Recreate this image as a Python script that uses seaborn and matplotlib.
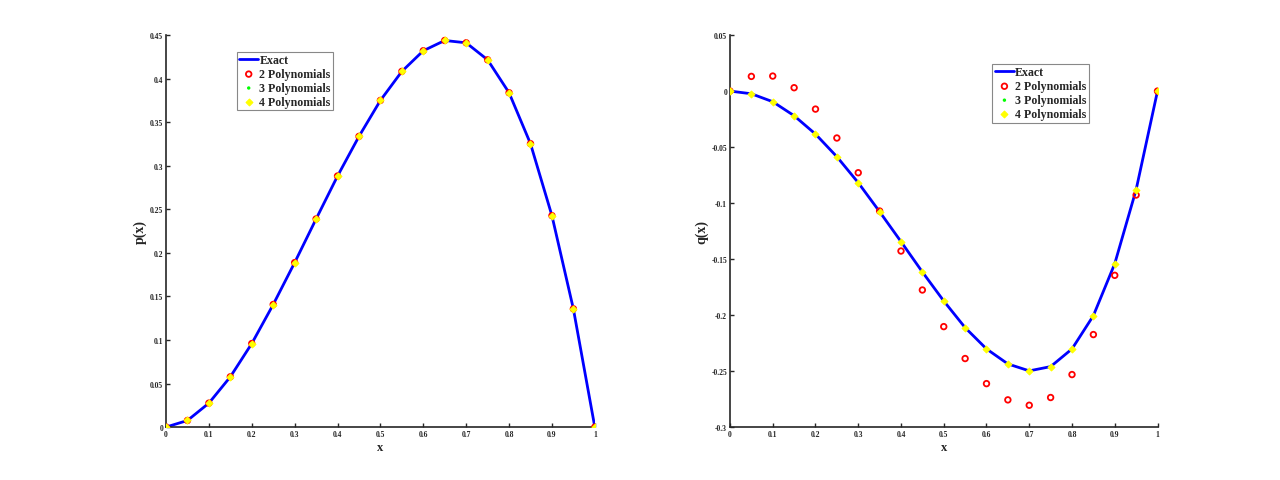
import numpy as np
import pandas as pd
import matplotlib
matplotlib.use('Agg')
import matplotlib.pyplot as plt
import seaborn as sns

x_vals = [0.0, 0.05, 0.1, 0.15, 0.2, 0.25, 0.3, 0.35, 0.4, 0.45, 0.5,
          0.55, 0.6, 0.65, 0.7, 0.75, 0.8, 0.85, 0.9, 0.95, 1.0]

p_exact = [0.0, 0.0076, 0.0275, 0.0577, 0.0959, 0.1407, 0.1888, 0.2389,
           0.2882, 0.3337, 0.375, 0.4083, 0.432, 0.4438, 0.4411, 0.4216,
           0.3838, 0.3253, 0.2427, 0.1357, 0.0]
p_poly2 = [0.0, 0.0076, 0.0275, 0.0577, 0.0959, 0.1407, 0.1888, 0.2389,
           0.2882, 0.3337, 0.375, 0.4083, 0.432, 0.4438, 0.4411, 0.4216,
           0.3838, 0.3253, 0.2427, 0.1357, 0.0]
p_poly3 = list(p_poly2)
p_poly4 = list(p_poly2)

q_exact = [0.0, -0.0024, -0.0095, -0.022, -0.0384, -0.0586, -0.0818, -0.1077,
           -0.1344, -0.1615, -0.1874, -0.2112, -0.2302, -0.2436, -0.2498,
           -0.246, -0.2302, -0.2005, -0.1541, -0.088, 0.0]
q_poly2 = [0.0, 0.0131, 0.0134, 0.003, -0.0161, -0.0419, -0.0729, -0.1071,
           -0.1428, -0.1776, -0.2103, -0.2388, -0.2612, -0.2757, -0.2805,
           -0.2736, -0.2531, -0.2174, -0.1645, -0.0928, 0.0]
q_poly3 = list(q_exact)
q_poly4 = list(q_exact)

x_ticks = [0, 0.1, 0.2, 0.3, 0.4, 0.5, 0.6, 0.7, 0.8, 0.9, 1]
x_ticklabels = ['0', '0.1', '0.2', '0.3', '0.4', '0.5', '0.6', '0.7', '0.8', '0.9', '1']
p_ticks = [0, 0.05, 0.1, 0.15, 0.2, 0.25, 0.3, 0.35, 0.4, 0.45]
p_ticklabels = ['0', '0.05', '0.1', '0.15', '0.2', '0.25', '0.3', '0.35', '0.4', '0.45']
q_ticks = [-0.3, -0.25, -0.2, -0.15, -0.1, -0.05, 0, 0.05]
q_ticklabels = ['-0.3', '-0.25', '-0.2', '-0.15', '-0.1', '-0.05', '0', '0.05']

sns.set_style('ticks')
plt.rcParams['font.family'] = ['Liberation Serif', 'DejaVu Serif']
plt.rcParams['xtick.direction'] = 'in'
plt.rcParams['ytick.direction'] = 'in'


def draw_panel(ax, exact, poly2, poly3, poly4, ylim, yticks, yticklabels, ylabel, legend_xy):
    df = pd.DataFrame({'x': x_vals, 'exact': exact, 'p2': poly2, 'p3': poly3, 'p4': poly4})
    sns.lineplot(data=df, x='x', y='exact', ax=ax, color='#0000ff', lw=2,
                 label='Exact', zorder=2)
    sns.scatterplot(data=df, x='x', y='p2', ax=ax, marker='o', s=16,
                    facecolor='none', edgecolor='#ff0000', linewidth=1.3,
                    label='2 Polynomials', zorder=3)
    sns.scatterplot(data=df, x='x', y='p3', ax=ax, marker='o', s=6,
                    color='#00ff00', edgecolor='none',
                    label='3 Polynomials', zorder=4)
    sns.scatterplot(data=df, x='x', y='p4', ax=ax, marker='D', s=12,
                    color='#ffff00', edgecolor='#ffff00', linewidth=0.8,
                    label='4 Polynomials', zorder=5)
    ax.set_xlim(0, 1)
    ax.set_ylim(*ylim)
    ax.set_xticks(x_ticks)
    ax.set_xticklabels(x_ticklabels)
    ax.set_yticks(yticks)
    ax.set_yticklabels(yticklabels)
    ax.tick_params(labelsize=5.5, length=3, width=1, pad=2)
    for lbl in ax.get_xticklabels() + ax.get_yticklabels():
        lbl.set_fontweight('bold')
    ax.set_xlabel('x', fontsize=9, fontweight='bold', labelpad=2)
    ax.set_ylabel(ylabel, fontsize=10, fontweight='bold', labelpad=2)
    sns.despine(ax=ax)
    for s in ('left', 'bottom'):
        ax.spines[s].set_linewidth(1.2)
    leg = ax.legend(loc='upper left', bbox_to_anchor=legend_xy, fancybox=False,
                    framealpha=1, edgecolor='#888888',
                    prop={'weight': 'bold', 'size': 8.6}, handlelength=1.6,
                    handletextpad=0.1, borderpad=0.2, labelspacing=0.16,
                    borderaxespad=0)
    leg.get_frame().set_linewidth(0.8)


fig = plt.figure(figsize=(12.8, 4.81), dpi=100)
ax1 = fig.add_axes([0.1297, 0.110, 0.335, 0.815])
ax2 = fig.add_axes([0.5703, 0.110, 0.334, 0.815])

draw_panel(ax1, p_exact, p_poly2, p_poly3, p_poly4, (0, 0.45),
           p_ticks, p_ticklabels, 'p(x)', (0.165, 0.957))
draw_panel(ax2, q_exact, q_poly2, q_poly3, q_poly4, (-0.3, 0.05),
           q_ticks, q_ticklabels, 'q(x)', (0.614, 0.926))

fig.savefig('out.png', dpi=100)
plt.close(fig)
